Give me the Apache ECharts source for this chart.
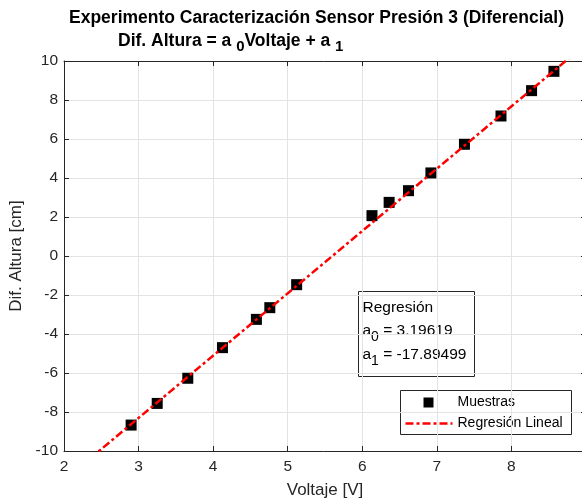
<!DOCTYPE html>
<html>
<head>
<meta charset="utf-8">
<script src="https://cdn.jsdelivr.net/npm/echarts@6/dist/echarts.min.js"></script>
<style>
html,body{margin:0;padding:0;background:#fff;}
#chart{width:582px;height:504px;}
</style>
</head>
<body>
<div id="chart"></div>
<script>
// ---- data ----
var voltaje = [2.90, 3.25, 3.66, 4.125, 4.58, 4.76, 5.12, 6.13, 6.36, 6.62, 6.92, 7.37, 7.86, 8.27, 8.57];
var difAltura = [-8.67, -7.56, -6.27, -4.70, -3.25, -2.65, -1.47, 2.07, 2.75, 3.35, 4.26, 5.73, 7.18, 8.48, 9.47];
var a0 = 3.19619;
var a1 = -17.89499;
var lineX = [2, 9];
var xTicks = [2, 3, 4, 5, 6, 7, 8, 9];
var yTicks = [-10, -8, -6, -4, -2, 0, 2, 4, 6, 8, 10];

var FONT = '"Liberation Sans", Arial, Helvetica, sans-serif';
var AX = '#262626';

var chart = echarts.init(document.getElementById('chart'), null, {renderer: 'canvas'});

var scatterData = voltaje.map(function (v, i) { return [v, difAltura[i]]; });
var lineData = lineX.map(function (x) { return [x, a0 * x + a1]; });

var axisCommon = {
  type: 'value',
  axisLine: {show: true, onZero: false, lineStyle: {color: AX, width: 1}},
  axisTick: {show: true, inside: true, length: 5, lineStyle: {color: AX}},
  axisLabel: {color: AX, fontFamily: FONT, fontSize: 15.5},
  splitLine: {show: false}
};

var option = {
  animation: false,
  backgroundColor: '#fff',
  grid: {left: 64, top: 61, width: 522, height: 390, containLabel: false, outerBoundsMode: 'none'},
  xAxis: [
    Object.assign({}, axisCommon, {
      min: xTicks[0], max: xTicks[xTicks.length - 1], interval: 1, position: 'bottom',
      name: 'Voltaje [V]', nameLocation: 'middle', nameGap: 31,
      nameTextStyle: {color: AX, fontFamily: FONT, fontSize: 17},
      axisLabel: {color: AX, fontFamily: FONT, fontSize: 15.5, margin: 8, showMaxLabel: true},
      splitLine: {show: true, lineStyle: {color: '#e3e3e3', width: 1}}
    }),
    Object.assign({}, axisCommon, {
      min: xTicks[0], max: xTicks[xTicks.length - 1], interval: 1, position: 'top',
      axisLabel: {show: false}
    })
  ],
  yAxis: [
    Object.assign({}, axisCommon, {
      min: yTicks[0], max: yTicks[yTicks.length - 1], interval: 2, position: 'left',
      name: 'Dif. Altura [cm]', nameLocation: 'middle', nameGap: 32,
      nameTextStyle: {color: AX, fontFamily: FONT, fontSize: 17},
      axisLabel: {color: AX, fontFamily: FONT, fontSize: 15.5, margin: 6},
      splitLine: {show: true, lineStyle: {color: '#e3e3e3', width: 1}}
    }),
    Object.assign({}, axisCommon, {
      min: yTicks[0], max: yTicks[yTicks.length - 1], interval: 2, position: 'right',
      axisLabel: {show: false}
    })
  ],
  series: [
    {
      name: 'Muestras',
      type: 'scatter',
      symbol: 'rect',
      symbolSize: 11,
      itemStyle: {color: '#000', borderWidth: 0, opacity: 1},
      emphasis: {disabled: true},
      data: scatterData,
      z: 3
    },
    {
      name: 'Regresión Lineal',
      type: 'line',
      symbol: 'none',
      clip: true,
      lineStyle: {color: '#ff0000', width: 2.5, type: [8, 3, 3, 3]},
      data: lineData,
      z: 4
    }
  ],
  graphic: [
    {
      type: 'text', left: 69, top: 8, z: 10,
      style: {
        text: 'Experimento Caracterización Sensor Presión 3 (Diferencial)',
        fontSize: 17.5, fontWeight: 'bold', fontFamily: FONT, fill: '#000', lineHeight: 20
      }
    },
    {
      type: 'text', left: 118, top: 29, z: 10,
      style: {
        text: 'Dif. Altura = a {sub|0}Voltaje + a {sub|1}',
        fontSize: 17.5, fontWeight: 'bold', fontFamily: FONT, fill: '#000', lineHeight: 20,
        rich: {
          sub: {fontSize: 15, fontWeight: 'bold', fontFamily: FONT, fill: '#000', lineHeight: 9, padding: [10, 0, 0, 0]}
        }
      }
    },
    // annotation box
    {
      type: 'group', left: 358, top: 291, z: 10,
      children: [
        {
          type: 'rect', shape: {x: 0, y: 0, width: 116, height: 85},
          style: {fill: '#fff', stroke: AX, lineWidth: 1}
        },
        {
          type: 'text', x: 4, y: 4,
          style: {
            text: 'Regresión\na{sub|0} = 3.19619\na{sub|1} = -17.89499',
            fontSize: 15.5, fontFamily: FONT, fill: '#000', lineHeight: 23.5,
            rich: {
              sub: {fontSize: 14, fontFamily: FONT, fill: '#000', lineHeight: 10, padding: [13, 0, 0, 0]}
            }
          }
        }
      ]
    },
    // legend
    {
      type: 'group', left: 400, top: 390, z: 10,
      children: [
        {
          type: 'rect', shape: {x: 0, y: 0, width: 171, height: 44},
          style: {fill: '#fff', stroke: AX, lineWidth: 1}
        },
        {
          type: 'rect', shape: {x: 23, y: 7, width: 10, height: 10},
          style: {fill: '#000'}
        },
        {
          type: 'line', shape: {x1: 5, y1: 33, x2: 52, y2: 33},
          style: {stroke: '#ff0000', lineWidth: 2.5, lineDash: [8, 3, 3, 3]}
        },
        {
          type: 'text', x: 57, y: 12,
          style: {text: 'Muestras', fontSize: 14, fontFamily: FONT, fill: '#000', verticalAlign: 'middle'}
        },
        {
          type: 'text', x: 57, y: 33,
          style: {text: 'Regresión Lineal', fontSize: 14, fontFamily: FONT, fill: '#000', verticalAlign: 'middle'}
        }
      ]
    }
  ]
};

chart.setOption(option);
</script>
</body>
</html>
